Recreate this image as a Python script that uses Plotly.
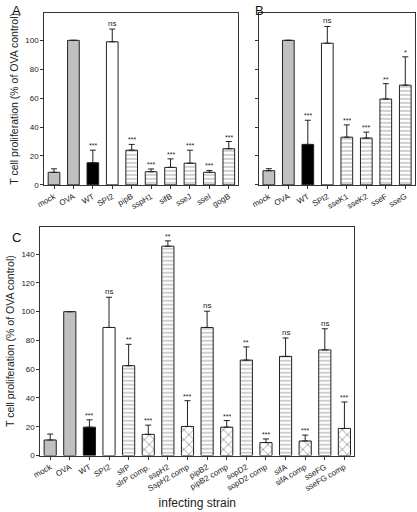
import plotly.graph_objects as go

W, H = 417, 512

# ---------------- data ----------------
cats_a = ["mock", "OVA", "WT", "SPI2", "pipB", "sspH1", "sifB", "sseJ", "sseI", "gogB"]
vals_a = [8.7, 100, 15.3, 99, 24, 9.1, 12.1, 15, 8.7, 25]
errs_a = [2.4, 0, 8.7, 8.8, 4, 1.9, 5.9, 9, 1.3, 5]
sig_a = ["", "", "***", "ns", "***", "***", "***", "***", "***", "***"]
kind_a = ["gray", "gray", "black", "white", "line", "line", "line", "line", "line", "line"]

cats_b = ["mock", "OVA", "WT", "SPI2", "sseK1", "sseK2", "sseF", "sseG"]
vals_b = [9.8, 100, 28, 98, 33, 32.4, 59.4, 69]
errs_b = [1.4, 0, 16.7, 11.6, 8.5, 4.1, 10.6, 19.6]
sig_b = ["", "", "***", "ns", "***", "***", "**", "*"]
kind_b = ["gray", "gray", "black", "white", "line", "line", "line", "line"]

cats_c = ["mock", "OVA", "WT", "SPI2", "slrP", "slrP comp.", "sspH2", "SspH2 comp",
          "pipB2", "pipB2 comp", "sopD2", "sopD2 comp", "sifA", "sifA comp",
          "sseFG", "sseFG comp"]
vals_c = [10.8, 100, 19.7, 89, 62.4, 14.7, 145.5, 20.2,
          89, 19.7, 66.3, 9, 68.9, 10.1, 73.4, 18.8]
errs_c = [4.1, 0, 5.1, 21, 14.9, 6.4, 3.7, 17.9,
          11.3, 4.6, 9.2, 2.5, 12.8, 4.1, 14.7, 18.4]
sig_c = ["", "", "***", "ns", "**", "***", "**", "***",
         "ns", "***", "**", "***", "ns", "***", "ns", "***"]
kind_c = ["gray", "gray", "black", "white", "line", "cross", "line", "cross",
          "line", "cross", "line", "cross", "line", "cross", "line", "cross"]

ytitle = "T cell proliferation (% of OVA control)"
xtitle = "infecting strain"

FILL = {"gray": "#c0c0c0", "black": "#000000", "white": "#ffffff",
        "line": "#ffffff", "cross": "#ffffff"}
SHAPE = {"gray": "", "black": "", "white": "", "line": "-", "cross": "x"}
PSIZE = {"gray": 4, "black": 4, "white": 4, "line": 4, "cross": 7}

FONT = "Liberation Sans, Arial, sans-serif"

fig = go.Figure()


def px_x(a, b):
    return [a / W, b / W]


def px_y(top, bottom):
    return [1 - bottom / H, 1 - top / H]


def add_panel(cats, vals, errs, sig, kind, xa, ya, width):
    fig.add_trace(go.Bar(
        x=cats, y=vals, xaxis=xa, yaxis=ya, width=width,
        marker=dict(
            color=[FILL[k] for k in kind],
            line=dict(color="#222222", width=1),
            pattern=dict(shape=[SHAPE[k] for k in kind],
                         size=[PSIZE[k] for k in kind],
                         fgcolor="#333333", solidity=0.25, fillmode="overlay"),
        ),
        error_y=dict(type="data", array=errs, arrayminus=[0] * len(errs),
                     symmetric=False, color="#222222", thickness=1, width=3),
        showlegend=False, hoverinfo="skip",
    ))
    for c, v, e, s in zip(cats, vals, errs, sig):
        if s:
            fig.add_annotation(x=c, y=v + e, xref=xa, yref=ya, text=s,
                               showarrow=False, yanchor="bottom", yshift=-1,
                               font=dict(size=8 if s == "ns" else 7, family=FONT, color="#222"))


add_panel(cats_a, vals_a, errs_a, sig_a, kind_a, "x", "y", 0.6)
add_panel(cats_b, vals_b, errs_b, sig_b, kind_b, "x2", "y2", 0.6)
add_panel(cats_c, vals_c, errs_c, sig_c, kind_c, "x3", "y3", 0.62)

axcommon = dict(showline=True, mirror=True, linecolor="#333333", linewidth=1,
                showgrid=False, zeroline=False, ticks="outside", ticklen=3,
                tickcolor="#333333", tickfont=dict(size=8, family=FONT, color="#222"))

fig.update_layout(
    width=W, height=H, margin=dict(l=0, r=0, t=0, b=0),
    paper_bgcolor="white", plot_bgcolor="white", bargap=0.4,
    font=dict(family=FONT, color="#222"),
    xaxis=dict(domain=px_x(37, 235), anchor="y", tickangle=-30, **axcommon),
    yaxis=dict(domain=px_y(13, 186.7), anchor="x", range=[0, 119],
               tickvals=[0, 20, 40, 60, 80, 100],
               title=dict(text=ytitle, font=dict(size=10.5, family=FONT), standoff=4),
               **axcommon),
    xaxis2=dict(domain=px_x(256, 415), anchor="y2", tickangle=-30, **axcommon),
    yaxis2=dict(domain=px_y(13, 186.7), anchor="x2", range=[0, 119],
                tickvals=[0, 20, 40, 60, 80, 100], showticklabels=False, **axcommon),
    xaxis3=dict(domain=px_x(33, 353), anchor="y3", tickangle=-30,
                title=dict(text=xtitle, font=dict(size=12, family=FONT), standoff=6),
                **axcommon),
    yaxis3=dict(domain=px_y(229, 460), anchor="x3", range=[0, 159],
                tickvals=[0, 20, 40, 60, 80, 100, 120, 140],
                title=dict(text=ytitle, font=dict(size=10.5, family=FONT), standoff=4),
                **axcommon),
)

for lab, xx, yy in [("A", 2, 1), ("B", 250, 1), ("C", 2, 230)]:
    fig.add_annotation(text=lab, x=xx / W, y=1 - yy / H, xref="paper", yref="paper",
                       xanchor="left", yanchor="top", showarrow=False,
                       font=dict(size=13, family=FONT, color="#111"))

fig.write_html("out.html", config={"displayModeBar": False},
               post_script="document.body.style.margin='0';document.body.style.overflow='hidden';")
